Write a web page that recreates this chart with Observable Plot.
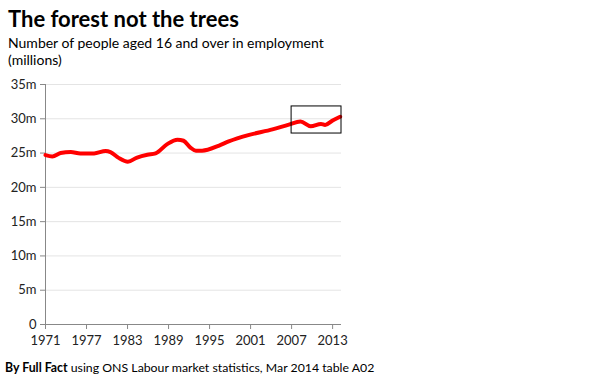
<!DOCTYPE html>
<html>
<head>
<meta charset="utf-8">
<script src="https://cdn.jsdelivr.net/npm/d3@7"></script>
<script src="https://cdn.jsdelivr.net/npm/@observablehq/plot@0.6"></script>
<style>
  body { margin: 0; background: #fff; font-family: Lato, "Open Sans", sans-serif; color: #000; }
  #wrap { width: 590px; height: 387px; position: relative; }
  #title { position: absolute; left: 8px; top: 5px; font-weight: bold; font-size: 22px; }
  #subtitle { position: absolute; left: 8px; top: 34px; font-size: 14px; line-height: 17px; width: 340px; }
  #chart { position: absolute; left: 0; top: 72px; }
  #caption { position: absolute; left: 5px; top: 360px; font-size: 12.3px; }
</style>
</head>
<body>
<div id="wrap">
  <div id="title">The forest not the trees</div>
  <div id="subtitle">Number of people aged 16 and over in employment (millions)</div>
  <div id="chart"></div>
  <div id="caption"><b>By Full Fact</b> using ONS Labour market statistics, Mar 2014 table A02</div>
</div>
<script>
// Employment, millions, by (fractional) year
const years  = [1971.0, 1972.0, 1973.2, 1974.7, 1976.1, 1978.1, 1979.8, 1980.5, 1981.7, 1983.05, 1984.4, 1985.9, 1987.1, 1988.8, 1990.3, 1991.2, 1992.2, 1993.0, 1993.9, 1996.4, 1997.8, 2000.8, 2004.2, 2006.6, 2008.3, 2009.8, 2011.3, 2011.9, 2013.0, 2014.1];
const values = [24.7,   24.5,   25.0,   25.15,  24.95,  24.95,  25.3,   25.15,  24.3,   23.75,   24.35,  24.75,  24.95,  26.3,   26.95,  26.8,   25.8,   25.35,  25.35,  26.1,   26.7,   27.65,  28.45,  29.15,  29.6,   28.9,   29.25,  29.1,   29.75,  30.3];
const xTicks = [1971, 1977, 1983, 1989, 1995, 2001, 2007, 2013];
const yTicks = [0, 5, 10, 15, 20, 25, 30, 35];
// highlighted box (years, millions)
const boxX = [2007.0, 2014.3];
const boxY = [27.85, 31.8];

const data = years.map((y, i) => ({year: y, value: values[i]}));
const box = [{x1: boxX[0], x2: boxX[1], y1: boxY[0], y2: boxY[1]}];

const chart = Plot.plot({
  width: 590,
  height: 278,
  marginLeft: 45,
  marginRight: 249,
  marginTop: 12,
  marginBottom: 26,
  style: {fontFamily: "Lato, sans-serif", fontSize: "13px", color: "#222", background: "#fff"},
  x: {domain: [1971, 2014.3], label: null},
  y: {domain: [0, 35], label: null},
  marks: [
    Plot.gridY(yTicks.filter(d => d > 0), {stroke: "#e4e4e4", strokeOpacity: 1}),
    Plot.axisX({ticks: xTicks, tickFormat: d => String(d), stroke: "#888", tickSize: 5, tickPadding: 6, label: null}),
    Plot.axisY({ticks: yTicks, tickFormat: d => d === 0 ? "0" : d + "m", stroke: "#888", tickSize: 5, tickPadding: 4, label: null}),
    Plot.ruleY([0], {stroke: "#888"}),
    Plot.ruleX([1971], {stroke: "#888"}),
    Plot.line(data, {x: "year", y: "value", stroke: "#ff0000", strokeWidth: 4, curve: "monotone-x"}),
    Plot.rect(box, {x1: "x1", x2: "x2", y1: "y1", y2: "y2", fill: "none", stroke: "#000", strokeWidth: 1})
  ]
});
document.getElementById("chart").appendChild(chart);
</script>
</body>
</html>
